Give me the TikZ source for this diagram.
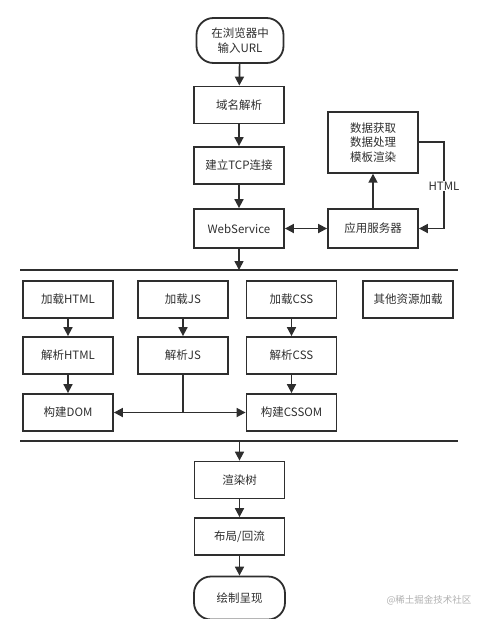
\documentclass[tikz,border=0pt]{standalone}
\usepackage{fontspec}
\setmainfont{Noto Sans CJK SC}
\usetikzlibrary{arrows.meta}
\definecolor{ink}{HTML}{2E2E2E}
\definecolor{wm}{HTML}{B0B0B0}
\begin{document}
\begin{tikzpicture}[x=1pt,y=-1pt,
  box/.style={draw=ink,line width=1.8pt,minimum width=90pt,minimum height=37pt,text=ink,inner sep=1pt,font=\fontsize{11.5}{14.5}\selectfont,align=center},
  term/.style={box,rounded corners=17pt,minimum width=87pt,minimum height=45pt},
  arr/.style={draw=ink,line width=1.7pt,-{Triangle[length=9pt,width=9pt]}},
  dbl/.style={draw=ink,line width=1.7pt,{Triangle[length=9pt,width=9pt]}-{Triangle[length=9pt,width=9pt]}},
  ln/.style={draw=ink,line width=1.7pt}]
\useasboundingbox (0,0) rectangle (491,619);
\node[term] (start) at (240,40.5) {在浏览器中\\输入URL};
\node[box] (dns) at (239,105) {域名解析};
\node[box] (tcp) at (239,165.5) {建立TCP连接};
\node[box,minimum height=39pt] (ws) at (239,228.5) {WebService};
\node[box,minimum height=61pt] (data) at (373,142.3) {数据获取\\数据处理\\模板渲染};
\node[box,minimum height=39pt] (app) at (373,228.5) {应用服务器};
\draw[arr] (start) -- (dns);
\draw[arr] (dns) -- (tcp);
\draw[arr] (tcp) -- (ws);
\draw[dbl] (ws) -- (app);
\draw[arr] (app) -- (data);
\coordinate (hc) at (444,186);
\draw[arr] (data.east) -| (hc) |- (app.east);
\node[fill=white,text=ink,inner sep=1pt,font=\fontsize{11.5}{14.5}\selectfont] (html) at (hc) {HTML};
% section line 1
\coordinate (l1a) at (20,270);
\coordinate (l1b) at (458,270);
\coordinate (l1m) at (239,270);
\draw[ln] (l1a) -- (l1b);
\draw[arr] (ws) -- (l1m);
% rows
\node[box] (lh) at (68,299.5) {加载HTML};
\node[box] (lj) at (183,299.5) {加载JS};
\node[box] (lc) at (291.5,299.5) {加载CSS};
\node[box] (lo) at (408,299.5) {其他资源加载};
\node[box] (ph) at (68,355.5) {解析HTML};
\node[box] (pj) at (183,355.5) {解析JS};
\node[box] (pc) at (291.5,355.5) {解析CSS};
\node[box] (dom) at (68,412.5) {构建DOM};
\node[box] (cssom) at (291.5,412.5) {构建CSSOM};
\draw[arr] (lh) -- (ph);
\draw[arr] (ph) -- (dom);
\draw[arr] (lj) -- (pj);
\draw[arr] (lc) -- (pc);
\draw[arr] (pc) -- (cssom);
\coordinate (j) at (183,412.5);
\draw[ln] (pj) -- (j);
\draw[arr] (j) -- (dom);
\draw[arr] (j) -- (cssom);
% section line 2
\coordinate (l2a) at (20,441);
\coordinate (l2b) at (458,441);
\coordinate (l2m) at (239.5,441);
\draw[ln] (l2a) -- (l2b);
\node[box] (rt) at (239.5,480) {渲染树};
\node[box] (lay) at (239.5,536.5) {布局/回流};
\node[term,minimum width=91pt,minimum height=43pt] (paint) at (239.5,598) {绘制呈现};
\draw[arr] (l2m) -- (rt);
\draw[arr] (rt) -- (lay);
\draw[arr] (lay) -- (paint);
\node[text=wm,font=\fontsize{9.5}{12}\selectfont,inner sep=0pt] (wmk) at (429,600) {@稀土掘金技术社区};
\end{tikzpicture}
\end{document}
